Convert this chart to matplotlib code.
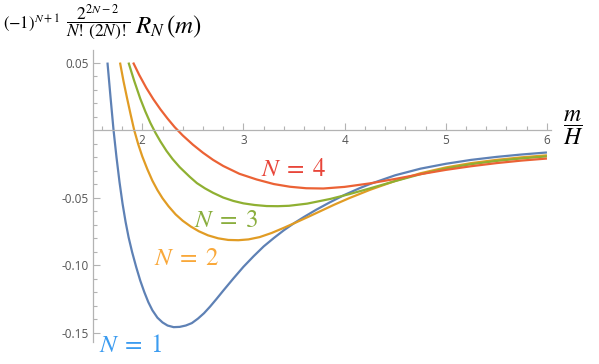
import numpy as np
import matplotlib
matplotlib.use("Agg")
import matplotlib.pyplot as plt
from matplotlib.ticker import FixedLocator

plt.rcParams['mathtext.fontset'] = 'stix'
plt.rcParams['font.family'] = ['Open Sans', 'DejaVu Sans']

# values
x_n1 = [1.656, 1.686, 1.716, 1.745, 1.775, 1.805, 1.835, 1.865, 1.90, 1.94, 1.98, 2.02, 2.06,
        2.10, 2.15, 2.20, 2.25, 2.31, 2.37, 2.43, 2.49, 2.55, 2.61, 2.67, 2.735, 2.80, 2.9,
        3.0, 3.1, 3.2, 3.3, 3.4, 3.5, 3.6, 3.72, 3.85, 4.0, 4.15, 4.25, 4.5, 4.75, 5.0, 5.25,
        5.5, 5.75, 6.0]
y_n1 = [0.05, 0.0245, 0.0, -0.020, -0.0385, -0.0545, -0.0680, -0.0795, -0.0905, -0.1015, -0.1115, -0.120, -0.1275,
        -0.1335, -0.139, -0.1425, -0.1448, -0.146, -0.1458, -0.1448, -0.143, -0.1397, -0.1357, -0.1308, -0.1250, -0.1190, -0.1100,
        -0.1013, -0.0935, -0.0862, -0.0800, -0.0742, -0.0690, -0.0643, -0.0590, -0.0537, -0.0480, -0.0430, -0.0400, -0.0335, -0.0286, -0.0250, -0.0221,
        -0.0199, -0.0181, -0.0166]

x_n2 = [1.78, 1.815, 1.85, 1.885, 1.92, 1.96, 2.0, 2.05, 2.10, 2.15, 2.20, 2.26, 2.33, 2.40,
        2.48, 2.56, 2.65, 2.75, 2.85, 2.95, 3.05, 3.16, 3.28, 3.40, 3.52, 3.64, 3.76, 3.90,
        4.05, 4.25, 4.5, 4.75, 5.0, 5.25, 5.5, 5.75, 6.0]
y_n2 = [0.05, 0.036, 0.0235, 0.0115, 0.0, -0.0105, -0.0195, -0.029, -0.0375, -0.0445, -0.0505, -0.0565, -0.0625, -0.0672,
        -0.0715, -0.0750, -0.0780, -0.0802, -0.0814, -0.0816, -0.0810, -0.0793, -0.0762, -0.0724, -0.0684, -0.0643, -0.0601, -0.0552,
        -0.0503, -0.0443, -0.0377, -0.0320, -0.0277, -0.0245, -0.0221, -0.0202, -0.0187]

x_n3 = [1.864, 1.92, 1.98, 2.03, 2.08, 2.13, 2.18, 2.24, 2.30, 2.37, 2.47, 2.54, 2.62, 2.70,
        2.80, 2.90, 3.0, 3.11, 3.23, 3.34, 3.45, 3.63, 3.86, 4.05, 4.25, 4.5, 4.75, 5.0, 5.25,
        5.5, 5.75, 6.0]
y_n3 = [0.05, 0.0365, 0.0233, 0.0138, 0.0053, -0.002, -0.0085, -0.0155, -0.0215, -0.0275, -0.0347, -0.0393, -0.0432, -0.0465,
        -0.0500, -0.0525, -0.0543, -0.0555, -0.0563, -0.0564, -0.0561, -0.0545, -0.0510, -0.0474, -0.0432, -0.0378, -0.0327, -0.0285, -0.0253,
        -0.0229, -0.0210, -0.0195]

x_n4 = [1.91, 1.97, 2.04, 2.11, 2.18, 2.25, 2.32, 2.40, 2.50, 2.60, 2.70, 2.80, 2.96, 3.13,
        3.30, 3.46, 3.62, 3.79, 4.0, 4.25, 4.5, 4.75, 5.0, 5.25, 5.5, 5.75, 6.0]
y_n4 = [0.05, 0.0408, 0.0312, 0.0228, 0.0153, 0.0085, 0.0022, -0.0040, -0.0108, -0.0168, -0.0221, -0.0266, -0.0324, -0.0366,
        -0.0400, -0.0420, -0.0431, -0.0433, -0.0421, -0.0395, -0.0362, -0.0327, -0.0295, -0.0268, -0.0245, -0.0226, -0.0211]

series = [(x_n1, y_n1), (x_n2, y_n2), (x_n3, y_n3), (x_n4, y_n4)]
line_colors = ['#5E81B5', '#E19C24', '#8FB032', '#EB6235']
label_texts = [r'$N\;=\;1$', r'$N\;=\;2$', r'$N\;=\;3$', r'$N\;=\;4$']
label_colors = ['#3C9CF0', '#F9A83A', '#8AAE3E', '#E8463A']
label_pos = [(1.89, -0.1597), (2.44, -0.0950), (2.83, -0.0672), (3.50, -0.0290)]

x_ticks = [2, 3, 4, 5, 6]
y_ticks = [-0.15, -0.10, -0.05, 0.05]
y_tick_labels = ['-0.15', '-0.10', '-0.05', '0.05']

fig = plt.figure(figsize=(5.99, 3.64), dpi=100)
ax = fig.add_axes([93/599, 1-342/364, (551-93)/599, (342-50)/364])

for (xs, ys), c in zip(series, line_colors):
    ax.plot(xs, ys, color=c, lw=1.6, solid_capstyle='butt', solid_joinstyle='round', clip_on=False)

for t, c, (px, py) in zip(label_texts, label_colors, label_pos):
    ax.text(px, py, t, color=c, fontsize=18, ha='center', va='center')

ax.set_xlim(1.513, 6.04)
ax.set_ylim(-0.157, 0.0593)

for s in ['top', 'right']:
    ax.spines[s].set_visible(False)
ax.spines['bottom'].set_position(('data', 0))
for s in ['left', 'bottom']:
    ax.spines[s].set_color('#b3b3b3')
    ax.spines[s].set_linewidth(0.9)

ax.xaxis.set_major_locator(FixedLocator(x_ticks))
ax.xaxis.set_minor_locator(FixedLocator([v/10 for v in range(16, 61, 2) if v % 10 != 0]))
ax.yaxis.set_major_locator(FixedLocator(y_ticks))
ax.yaxis.set_minor_locator(FixedLocator([v/100 for v in range(-15, 6) if v % 5 != 0]))
ax.set_yticklabels(y_tick_labels)

ax.tick_params(which='both', direction='in', color='#b3b3b3', width=0.8,
               labelcolor='#555555', labelsize=8.5)
ax.tick_params(which='major', length=5)
ax.tick_params(which='minor', length=3)
ax.tick_params(axis='x', pad=3)
ax.tick_params(axis='y', pad=3)

# axis labels
fig.text(573/599, 1-128/364, r'$\dfrac{m}{H}$', fontsize=17, ha='center', va='center')
fig.text(3/599, 1-29/364, r'$(-1)^{N+1}$', fontsize=12, ha='left', va='baseline')
fig.text(98/599, 1-22/364, r'$\dfrac{2^{2N-2}}{N!\,(2N)!}$', fontsize=12.5, ha='center', va='center')
fig.text(135/599, 1-33/364, r'$R_N\,(m)$', fontsize=18, ha='left', va='baseline')

fig.savefig('out.png', dpi=100)
